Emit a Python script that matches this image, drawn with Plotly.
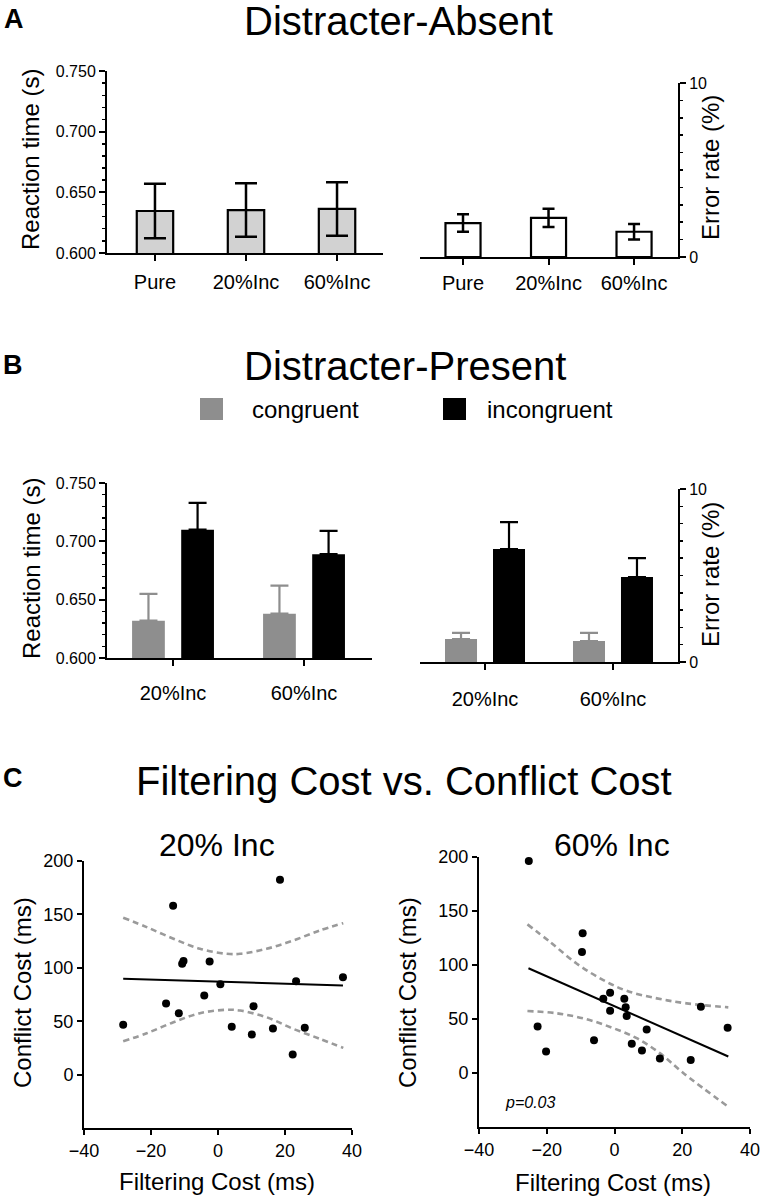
import plotly.graph_objects as go

W, H = 762, 1199
FONT = "Liberation Sans, Arial, Helvetica, sans-serif"

# ---------------- data ----------------
CATS_A = ["Pure", "20%Inc", "60%Inc"]
RT_ABSENT = [0.6346, 0.6354, 0.6363]
RT_ABSENT_SEM = [0.0225, 0.0220, 0.0220]
ERR_ABSENT = [1.95, 2.25, 1.45]
ERR_ABSENT_SEM = [0.50, 0.52, 0.45]

CATS_B = ["20%Inc", "60%Inc"]
RT_CONG = [0.632, 0.638]
RT_CONG_SEM = [0.023, 0.024]
RT_INCONG = [0.710, 0.689]
RT_INCONG_SEM = [0.023, 0.020]
ERR_CONG = [1.33, 1.21]
ERR_CONG_SEM = [0.35, 0.47]
ERR_INCONG = [6.53, 4.91]
ERR_INCONG_SEM = [1.56, 1.09]

# Panel C: 20% Inc
FILT_20 = [-28.3, -13.4, -15.5, -11.7, -10.7, -10.3, -4.1, -2.5, 0.7, 4.1,
           10.1, 10.6, 16.4, 18.5, 22.3, 23.3, 25.9, 37.3]
CONF_20 = [46.6, 158.1, 66.6, 57.5, 103.8, 106.3, 74.1, 105.9, 84.7, 44.7,
           37.5, 64.0, 43.1, 182.5, 18.8, 87.5, 43.8, 91.2]
FIT20_X = [-28.3, 37.3]
FIT20_Y = [89.7, 83.4]
BAND20_X = [-28.3, -21.3, -13.3, -5.4, 2.6, 6.6, 14.5, 22.5, 30.4, 37.4]
BAND20_UP = [146.9, 138.1, 127.2, 117.8, 113.1, 113.1, 117.8, 125.6, 135.0, 141.8]
BAND20_LO = [31.2, 38.7, 49.0, 57.5, 60.7, 60.0, 53.7, 42.8, 33.5, 25.0]

# Panel C: 60% Inc
FILT_60 = [-25.3, -22.7, -20.2, -9.4, -9.6, -6.05, -3.3, -1.3, -1.3, 2.9,
           3.3, 3.6, 5.1, 8.1, 9.5, 13.4, 22.5, 25.5, 33.4]
CONF_60 = [196.3, 43.0, 19.9, 129.3, 112.1, 30.4, 68.8, 74.3, 57.7, 68.8,
           60.8, 52.8, 27.0, 20.8, 40.2, 13.5, 12.0, 61.4, 42.0]
FIT60_X = [-25.4, 33.6]
FIT60_Y = [97.0, 15.3]
BAND60_UP_X = [-25.7, -19.0, -11.2, -3.3, 3.6, 12.5, 21.3, 33.6]
BAND60_UP = [137.6, 121.3, 101.4, 86.0, 76.1, 69.1, 64.5, 60.8]
BAND60_LO_X = [-25.7, -17.1, -8.2, -0.35, 6.55, 13.4, 20.3, 33.6]
BAND60_LO = [57.4, 55.3, 49.8, 41.5, 32.2, 18.4, 0.0, -31.3]

# ---------------- helpers ----------------
def xd(a, b):
    return [a / W, b / W]

def yd(top, bottom):
    return [1 - bottom / H, 1 - top / H]

def px(x):
    return x / W

def py(y):
    return 1 - y / H

AX = dict(showline=True, linecolor="black", linewidth=2, showgrid=False,
          zeroline=False, ticks="outside", tickcolor="black", tickwidth=2,
          ticklen=6, color="black", automargin=False)

fig = go.Figure()

LIGHT = "#d2d2d2"
GRAY = "#8e8e8e"

# Panel A left
fig.add_trace(go.Bar(x=list(range(len(CATS_A))), y=RT_ABSENT, width=0.40,
                     marker=dict(color=LIGHT, line=dict(color="black", width=2.2)),
                     error_y=dict(type="data", array=RT_ABSENT_SEM, color="black",
                                  thickness=2.5, width=11),
                     xaxis="x", yaxis="y", showlegend=False))
# Panel A right
fig.add_trace(go.Bar(x=list(range(len(CATS_A))), y=ERR_ABSENT, width=0.41,
                     marker=dict(color="white", line=dict(color="black", width=2.2)),
                     error_y=dict(type="data", array=ERR_ABSENT_SEM, color="black",
                                  thickness=2.5, width=6),
                     xaxis="x2", yaxis="y2", showlegend=False))
# Panel B left
nb = list(range(len(CATS_B)))
fig.add_trace(go.Bar(x=nb, y=RT_CONG, name="congruent", marker=dict(color=GRAY),
                     error_y=dict(type="data", array=RT_CONG_SEM, arrayminus=[0, 0],
                                  symmetric=False, color=GRAY, thickness=2.2, width=9),
                     xaxis="x3", yaxis="y3", showlegend=False))
fig.add_trace(go.Bar(x=nb, y=RT_INCONG, name="incongruent", marker=dict(color="black"),
                     error_y=dict(type="data", array=RT_INCONG_SEM, arrayminus=[0, 0],
                                  symmetric=False, color="black", thickness=2.2, width=9),
                     xaxis="x3", yaxis="y3", showlegend=False))
# Panel B right
fig.add_trace(go.Bar(x=nb, y=ERR_CONG, name="congruent", marker=dict(color=GRAY),
                     error_y=dict(type="data", array=ERR_CONG_SEM, arrayminus=[0, 0],
                                  symmetric=False, color=GRAY, thickness=2.2, width=9),
                     xaxis="x4", yaxis="y4", showlegend=False))
fig.add_trace(go.Bar(x=nb, y=ERR_INCONG, name="incongruent", marker=dict(color="black"),
                     error_y=dict(type="data", array=ERR_INCONG_SEM, arrayminus=[0, 0],
                                  symmetric=False, color="black", thickness=2.2, width=9),
                     xaxis="x4", yaxis="y4", showlegend=False))

DASH = dict(color="#9a9a9a", width=2.6, dash="6px,4px", shape="spline", smoothing=1.0)
# Panel C left
fig.add_trace(go.Scatter(x=BAND20_X, y=BAND20_UP, mode="lines", line=DASH,
                         xaxis="x5", yaxis="y5", showlegend=False))
fig.add_trace(go.Scatter(x=BAND20_X, y=BAND20_LO, mode="lines", line=DASH,
                         xaxis="x5", yaxis="y5", showlegend=False))
fig.add_trace(go.Scatter(x=FIT20_X, y=FIT20_Y, mode="lines",
                         line=dict(color="black", width=2),
                         xaxis="x5", yaxis="y5", showlegend=False))
fig.add_trace(go.Scatter(x=FILT_20, y=CONF_20, mode="markers",
                         marker=dict(color="black", size=8),
                         xaxis="x5", yaxis="y5", showlegend=False))
# Panel C right
fig.add_trace(go.Scatter(x=BAND60_UP_X, y=BAND60_UP, mode="lines", line=DASH,
                         xaxis="x6", yaxis="y6", showlegend=False))
fig.add_trace(go.Scatter(x=BAND60_LO_X, y=BAND60_LO, mode="lines", line=DASH,
                         xaxis="x6", yaxis="y6", showlegend=False))
fig.add_trace(go.Scatter(x=FIT60_X, y=FIT60_Y, mode="lines",
                         line=dict(color="black", width=2),
                         xaxis="x6", yaxis="y6", showlegend=False))
fig.add_trace(go.Scatter(x=FILT_60, y=CONF_60, mode="markers",
                         marker=dict(color="black", size=8),
                         xaxis="x6", yaxis="y6", showlegend=False))

XT_BIG = dict(family=FONT, size=20, color="black")
YT = dict(family=FONT, size=16, color="black")
CT = dict(family=FONT, size=18, color="black")
MINOR_RT = dict(dtick=0.01, ticks="outside", ticklen=3, tickcolor="black", tickwidth=1.5)
MINOR_ER = dict(dtick=1, ticks="outside", ticklen=3, tickcolor="black", tickwidth=1.5)

layout = dict(
    template="none",
    width=W, height=H, margin=dict(l=0, r=0, t=0, b=0, pad=0), autosize=False,
    paper_bgcolor="white", plot_bgcolor="white",
    barmode="group", bargap=0.25, bargroupgap=0.333,
    font=dict(family=FONT, color="black"),
    xaxis=dict(AX, domain=xd(107, 383), range=[-0.527, 2.505], anchor="y",
               tickvals=list(range(len(CATS_A))), ticktext=CATS_A, tickfont=XT_BIG,
               ticklabelstandoff=4),
    yaxis=dict(AX, domain=yd(71, 253), range=[0.6, 0.75], anchor="x",
               dtick=0.05, tickformat=".3f", tickfont=YT, minor=MINOR_RT),
    xaxis2=dict(AX, domain=xd(420, 678), range=[-0.503, 2.514], anchor="y2",
                tickvals=list(range(len(CATS_A))), ticktext=CATS_A, tickfont=XT_BIG,
                ticklabelstandoff=1),
    yaxis2=dict(AX, domain=yd(83, 257), range=[0, 10], anchor="x2", side="right",
                tickvals=[0, 10], tickfont=YT, minor=MINOR_ER),
    xaxis3=dict(AX, domain=xd(107, 372), range=[-0.504, 1.519], anchor="y3",
                tickvals=nb, ticktext=CATS_B, tickfont=XT_BIG, ticklabelstandoff=10),
    yaxis3=dict(AX, domain=yd(483, 658), range=[0.6, 0.75], anchor="x3",
                dtick=0.05, tickformat=".3f", tickfont=YT, minor=MINOR_RT),
    xaxis4=dict(AX, domain=xd(420, 678), range=[-0.508, 1.508], anchor="y4",
                tickvals=nb, ticktext=CATS_B, tickfont=XT_BIG, ticklabelstandoff=12),
    yaxis4=dict(AX, domain=yd(489, 662), range=[0, 10], anchor="x4", side="right",
                tickvals=[0, 10], tickfont=YT, minor=MINOR_ER),
    xaxis5=dict(AX, domain=xd(84, 352), range=[-40, 40], anchor="y5",
                tickvals=[-40, -20, 0, 20, 40], tickfont=CT, ticklen=5),
    yaxis5=dict(AX, domain=yd(861, 1128), range=[-50, 200], anchor="x5",
                tickvals=[0, 50, 100, 150, 200], tickfont=CT, ticklen=5),
    xaxis6=dict(AX, domain=xd(479, 750), range=[-40, 40], anchor="y6",
                tickvals=[-40, -20, 0, 20, 40], tickfont=CT, ticklen=5),
    yaxis6=dict(AX, domain=yd(857, 1127), range=[-50, 200], anchor="x6",
                tickvals=[0, 50, 100, 150, 200], tickfont=CT, ticklen=5),
)

ann = []
def text(s, x, y, size, bold=False, italic=False, angle=0, xanchor="center"):
    t = s
    if bold:
        t = "<b>" + t + "</b>"
    if italic:
        t = "<i>" + t + "</i>"
    ann.append(dict(text=t, x=px(x), y=py(y), xref="paper", yref="paper",
                    showarrow=False, xanchor=xanchor, yanchor="middle",
                    textangle=angle, font=dict(family=FONT, size=size, color="black")))

# panel letters & titles
text("A", 14, 19, 27, bold=True)
text("B", 13, 365, 27, bold=True)
text("C", 13, 778, 27, bold=True)
text("Distracter-Absent", 399, 21, 40)
text("Distracter-Present", 405, 366, 40)
text("Filtering Cost vs. Conflict Cost", 404, 781, 40)
text("20% Inc", 217, 845, 32)
text("60% Inc", 612, 845, 32)
# axis titles
text("Reaction time (s)", 31, 160, 24, angle=-90)
text("Error rate (%)", 711, 168, 24, angle=-90)
text("Reaction time (s)", 31, 569, 24, angle=-90)
text("Error rate (%)", 711, 575, 24, angle=-90)
text("Conflict Cost (ms)", 22, 993, 24, angle=-90)
text("Conflict Cost (ms)", 407, 993, 24, angle=-90)
text("Filtering Cost (ms)", 217, 1181, 24)
text("Filtering Cost (ms)", 613, 1182, 24)
text("p=0.03", 530, 1102, 16, italic=True)
# legend
text("congruent", 250, 409, 24, xanchor="left")
text("incongruent", 485, 409, 24, xanchor="left")
layout["annotations"] = ann
layout["shapes"] = [
    dict(type="rect", xref="paper", yref="paper", x0=px(200), x1=px(223),
         y0=py(420), y1=py(398), fillcolor=GRAY, line=dict(width=0)),
    dict(type="rect", xref="paper", yref="paper", x0=px(443), x1=px(466),
         y0=py(420), y1=py(398), fillcolor="black", line=dict(width=0)),
]

fig.update_layout(**layout)
fig.write_html("out.html",
               config={"displayModeBar": False, "staticPlot": True},
               post_script="document.body.style.margin='0';document.body.style.padding='0';")
